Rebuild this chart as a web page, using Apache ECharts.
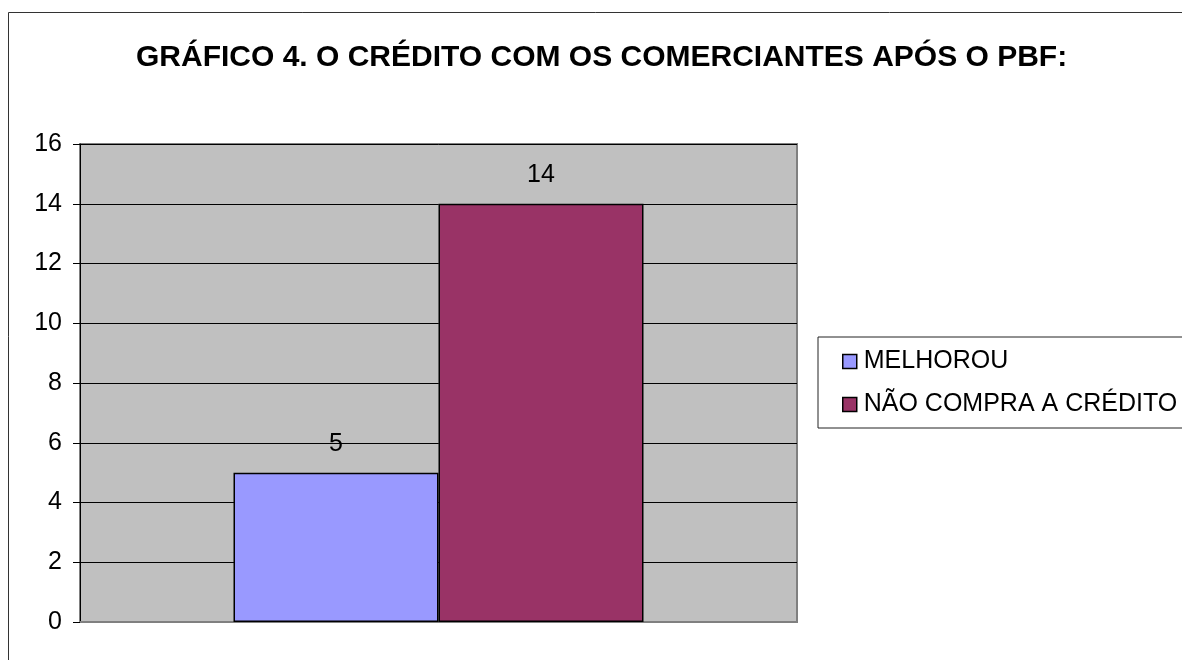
<!DOCTYPE html>
<html>
<head>
<meta charset="utf-8">
<script src="https://cdn.jsdelivr.net/npm/echarts@6/dist/echarts.min.js"></script>
<style>
html,body{margin:0;padding:0;background:#fff;}
#c{width:1182px;height:660px;}
</style>
</head>
<body>
<div id="c"></div>
<script>
const titleText = 'GRÁFICO 4. O CRÉDITO COM OS COMERCIANTES APÓS O PBF:';
const categories = [''];
const seriesNames = ['MELHOROU', 'NÃO COMPRA A CRÉDITO'];
const seriesColors = ['#9999FF', '#993366'];
const melhorou = [5];
const naoCompra = [14];
const yTicks = {min: 0, max: 16, interval: 2};

const FONT = '"Liberation Sans", Arial, sans-serif';
const chart = echarts.init(document.getElementById('c'));
const seriesData = [melhorou, naoCompra];

chart.setOption({
  backgroundColor: '#ffffff',
  animation: false,
  textStyle: {fontFamily: FONT},
  title: {
    text: titleText,
    left: 136,
    top: 43,
    padding: 0,
    textStyle: {fontFamily: FONT, fontSize: 30, fontWeight: 'bold', color: '#000'}
  },
  graphic: [{
    type: 'rect',
    silent: true,
    z: -1,
    shape: {x: 8.5, y: 12.5, width: 1300, height: 800},
    style: {fill: 'none', stroke: '#333', lineWidth: 1}
  }],
  legend: {
    orient: 'vertical',
    left: 818,
    top: 337,
    padding: [12, 60, 11, 24],
    itemGap: 18,
    itemWidth: 14,
    itemHeight: 14,
    borderColor: '#222',
    borderWidth: 1,
    icon: 'rect',
    textStyle: {fontFamily: FONT, fontSize: 25, color: '#000', padding: [0, 0, 0, 2]},
    data: seriesNames.map(n => ({name: n, itemStyle: {borderColor: '#000', borderWidth: 1.5}}))
  },
  grid: {
    left: 80, top: 144, right: 385, bottom: 38,
    show: true,
    backgroundColor: '#C0C0C0',
    borderColor: '#808080',
    borderWidth: 2
  },
  xAxis: {
    type: 'category',
    data: categories,
    axisLine: {show: true, lineStyle: {color: '#808080', width: 2}},
    axisTick: {show: false},
    axisLabel: {show: false},
    splitLine: {show: false}
  },
  yAxis: {
    type: 'value',
    min: yTicks.min, max: yTicks.max, interval: yTicks.interval,
    axisLine: {show: true, lineStyle: {color: '#000', width: 1}},
    axisTick: {show: true, length: 7, lineStyle: {color: '#000'}},
    axisLabel: {fontFamily: FONT, fontSize: 25, color: '#000', margin: 18},
    splitLine: {show: true, lineStyle: {color: '#000', width: 1}}
  },
  series: seriesNames.map((n, i) => ({
    name: n,
    type: 'bar',
    data: seriesData[i],
    barWidth: 205,
    barGap: '0%',
    itemStyle: {color: seriesColors[i], borderColor: '#000', borderWidth: 1.5},
    label: {show: true, position: 'top', distance: 16, fontFamily: FONT, fontSize: 25, color: '#000'}
  }))
});
</script>
</body>
</html>
